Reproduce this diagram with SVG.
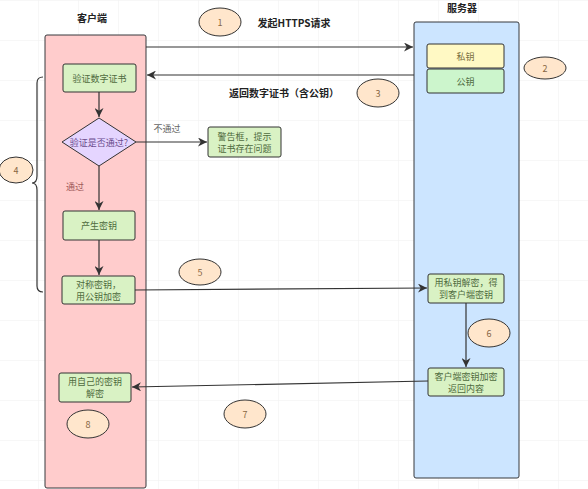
<svg xmlns="http://www.w3.org/2000/svg" width="588" height="489" viewBox="0 0 588 489">
<defs>
<pattern id="grid" x="38" y="0" width="40" height="40" patternUnits="userSpaceOnUse">
<path d="M0 0V40M0 0H40" fill="none" stroke="#efefef" stroke-width="1"/>
</pattern>
<marker id="ah" viewBox="0 0 10 10" refX="10" refY="5" markerWidth="9" markerHeight="9" markerUnits="userSpaceOnUse" orient="auto">
<path d="M0 0L10 5L0 10L3 5Z" fill="#333"/>
</marker>
</defs>
<style>
text{font-family:"Noto Sans CJK SC","Noto Sans",sans-serif;font-size:9px;text-anchor:middle;dominant-baseline:central}
.title{font-weight:bold;font-size:10px;fill:#222}
.box{fill:#d9f2c4;stroke:#333;stroke-width:1}
.bt{fill:#4f6b3e}
.num{fill:#ffe6cc;stroke:#333;stroke-width:1}
.nt{fill:#886644}
.conn{fill:none;stroke:#333;stroke-width:1.2}
.lbl{fill:#666}
</style>
<rect width="588" height="489" fill="#fff"/>
<rect width="588" height="489" fill="url(#grid)"/>

<g id="client">
<rect x="45" y="35" width="101" height="453" rx="2" fill="#ffcccc" stroke="#36393d" stroke-width="1"/>
<text class="title" x="92" y="17">客户端</text>
</g>
<g id="server">
<rect x="414" y="22" width="105" height="456" rx="2" fill="#cce5ff" stroke="#36393d" stroke-width="1"/>
<text class="title" x="462" y="7">服务器</text>
</g>

<g id="private-key">
<rect x="427" y="44" width="77" height="24" rx="2" fill="#fff9c4" stroke="#333"/>
<text class="bt" x="465.5" y="56" style="fill:#7a7040">私钥</text>
</g>
<g id="public-key">
<rect x="427" y="69" width="77" height="24" rx="2" fill="#ccf5cc" stroke="#333"/>
<text class="bt" x="465.5" y="81">公钥</text>
</g>

<g id="verify-cert">
<rect class="box" x="63" y="64" width="73" height="28" rx="2"/>
<text class="bt" x="99.5" y="78">验证数字证书</text>
</g>
<g id="check">
<path d="M99 118L136 142L99 166L62 142Z" fill="#e5d5ff" stroke="#333"/>
<text x="99" y="142" style="fill:#6a4c8c">验证是否通过?</text>
</g>
<g id="warning">
<rect class="box" x="208" y="127" width="73" height="30" rx="2"/>
<text class="bt" x="244.5" y="136">警告框，提示</text>
<text class="bt" x="244.5" y="148">证书存在问题</text>
</g>
<g id="gen-key">
<rect class="box" x="63" y="211" width="72" height="29" rx="2"/>
<text class="bt" x="99" y="225.5">产生密钥</text>
</g>
<g id="encrypt">
<rect class="box" x="62" y="276" width="73" height="28" rx="2"/>
<text class="bt" x="98.5" y="284">对称密钥，</text>
<text class="bt" x="98.5" y="296">用公钥加密</text>
</g>
<g id="decrypt-server">
<rect class="box" x="428" y="274" width="76" height="29" rx="2"/>
<text class="bt" x="466" y="282.5">用私钥解密，得</text>
<text class="bt" x="466" y="294.5">到客户端密钥</text>
</g>
<g id="return-content">
<rect class="box" x="428" y="368" width="76" height="28" rx="2"/>
<text class="bt" x="466" y="376">客户端密钥加密</text>
<text class="bt" x="466" y="388">返回内容</text>
</g>
<g id="decrypt-client">
<rect class="box" x="59" y="373" width="72" height="29" rx="2"/>
<text class="bt" x="95" y="381.5">用自己的密钥</text>
<text class="bt" x="95" y="393.5">解密</text>
</g>

<g id="connectors">
<line class="conn" x1="146" y1="47" x2="413" y2="47" marker-end="url(#ah)"/>
<line class="conn" x1="414" y1="75" x2="147" y2="75" marker-end="url(#ah)"/>
<line class="conn" x1="99" y1="92" x2="99" y2="117" marker-end="url(#ah)"/>
<line class="conn" x1="136" y1="142" x2="207" y2="142" marker-end="url(#ah)"/>
<line class="conn" x1="99" y1="166" x2="99" y2="210" marker-end="url(#ah)"/>
<line class="conn" x1="99" y1="240" x2="99" y2="275" marker-end="url(#ah)"/>
<line class="conn" x1="135" y1="290" x2="427" y2="288" marker-end="url(#ah)"/>
<line class="conn" x1="466" y1="303" x2="466" y2="367" marker-end="url(#ah)"/>
<line class="conn" x1="428" y1="381" x2="132" y2="387" marker-end="url(#ah)"/>
<path class="conn" d="M43 77Q37 77 37 83V176Q37 183 32 183Q37 183 37 190V286Q37 292 43 292"/>
<text class="lbl" x="167" y="128">不通过</text>
<text x="75" y="186" style="fill:#a05a5a">通过</text>
<text class="title" x="294" y="22">发起HTTPS请求</text>
<text class="title" x="284" y="92">返回数字证书（含公钥）</text>
</g>

<g id="n1"><ellipse class="num" cx="220" cy="22" rx="21" ry="14"/><text class="nt" x="220" y="22">1</text></g>
<g id="n2"><ellipse class="num" cx="545" cy="68" rx="21" ry="11"/><text class="nt" x="545" y="68">2</text></g>
<g id="n3"><ellipse class="num" cx="378" cy="93" rx="21" ry="14"/><text class="nt" x="378" y="93">3</text></g>
<g id="n4"><ellipse class="num" cx="16" cy="170" rx="17" ry="13"/><text class="nt" x="16" y="170">4</text></g>
<g id="n5"><ellipse class="num" cx="200" cy="272" rx="21" ry="13"/><text class="nt" x="200" y="272">5</text></g>
<g id="n6"><ellipse class="num" cx="489" cy="333" rx="21" ry="14"/><text class="nt" x="489" y="333">6</text></g>
<g id="n7"><ellipse class="num" cx="245" cy="414" rx="21" ry="14"/><text class="nt" x="245" y="414">7</text></g>
<g id="n8"><ellipse class="num" cx="88" cy="424" rx="21" ry="14"/><text class="nt" x="88" y="424">8</text></g>
</svg>
